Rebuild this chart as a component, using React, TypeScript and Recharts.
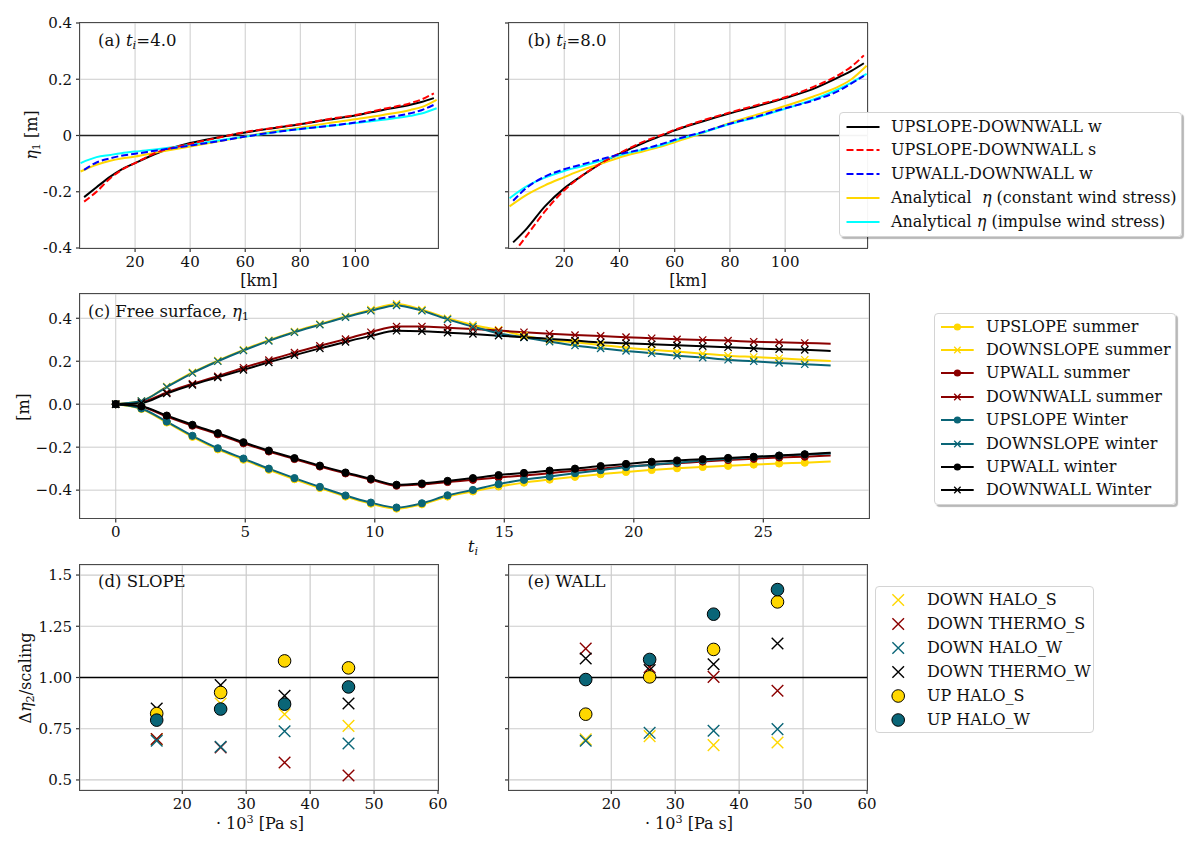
import React from "react";
import {
  CartesianGrid,
  Line,
  LineChart,
  ReferenceLine,
  Scatter,
  ScatterChart,
  XAxis,
  YAxis,
} from "recharts";

const FONT = "DejaVu Serif";
const GOLD = "#FFD700";
const DARKRED = "#8B0000";
const TEAL = "#0a6577";
const GRID = "#cccccc";

// ---- panels (a) and (b): cross-shelf profiles of eta_1 ----
const KM_TICKS = [20, 40, 60, 80, 100];
const ETA_TICKS = [-0.4, -0.2, 0, 0.2, 0.4];
const ETA_LABELS = ["-0.4", "-0.2", "0", "0.2", "0.4"];

const A_KM = [1.5, 6, 11, 15, 20, 28, 40, 50, 60, 70, 80, 90, 100, 110, 120, 124, 128.5];
const A_KM_AN = [0.2, 6, 11, 15, 20, 28, 40, 50, 60, 70, 80, 90, 100, 110, 120, 124, 129.5];
const A_SLOPE_WALL_W = [-0.219, -0.184, -0.146, -0.121, -0.098, -0.063, -0.027, -0.007, 0.011, 0.026, 0.04, 0.056, 0.071, 0.091, 0.109, 0.119, 0.133];
const A_SLOPE_WALL_S = [-0.235, -0.2, -0.152, -0.123, -0.098, -0.06, -0.03, -0.008, 0.012, 0.027, 0.041, 0.058, 0.073, 0.094, 0.115, 0.128, 0.15];
const A_WALL_WALL_W = [-0.122, -0.096, -0.081, -0.072, -0.065, -0.053, -0.036, -0.021, -0.004, 0.011, 0.023, 0.034, 0.046, 0.062, 0.079, 0.09, 0.109];
const A_CONSTANT = [-0.128, -0.104, -0.09, -0.082, -0.075, -0.06, -0.039, -0.021, -0.004, 0.014, 0.028, 0.044, 0.058, 0.073, 0.091, 0.101, 0.127];
const A_IMPULSE = [-0.098, -0.077, -0.069, -0.063, -0.057, -0.049, -0.033, -0.018, -0.004, 0.011, 0.023, 0.034, 0.044, 0.056, 0.07, 0.078, 0.097];

const B_KM = [1.5, 6.5, 13, 20, 26, 33.5, 40, 49, 56, 60, 70, 80, 90, 100, 110, 120, 124, 128.5];
const B_KM_AN = [0.2, 6.5, 13, 20, 26, 33.5, 40, 49, 56, 60, 70, 80, 90, 100, 110, 120, 124, 129.5];
const B_SLOPE_WALL_W = [-0.38, -0.33, -0.252, -0.188, -0.146, -0.098, -0.065, -0.025, 0.002, 0.018, 0.05, 0.079, 0.105, 0.133, 0.165, 0.21, 0.23, 0.257];
const B_SLOPE_WALL_S = [-0.42, -0.355, -0.27, -0.195, -0.146, -0.098, -0.063, -0.021, 0.005, 0.02, 0.053, 0.082, 0.109, 0.136, 0.172, 0.219, 0.245, 0.285];
const B_WALL_WALL_W = [-0.232, -0.185, -0.146, -0.12, -0.104, -0.084, -0.067, -0.047, -0.028, -0.015, 0.012, 0.042, 0.068, 0.097, 0.124, 0.162, 0.185, 0.212];
const B_CONSTANT = [-0.252, -0.21, -0.177, -0.148, -0.124, -0.1, -0.078, -0.055, -0.037, -0.024, 0.009, 0.045, 0.075, 0.105, 0.138, 0.177, 0.2, 0.248];
const B_IMPULSE = [-0.223, -0.18, -0.15, -0.126, -0.11, -0.089, -0.07, -0.049, -0.032, -0.018, 0.01, 0.041, 0.066, 0.095, 0.127, 0.168, 0.188, 0.219];

// ---- panel (c): free surface time series ----
const T = [0, 0.99, 1.97, 2.96, 3.94, 4.93, 5.91, 6.9, 7.88, 8.87, 9.85, 10.84, 11.82, 12.81, 13.79, 14.78, 15.76, 16.75, 17.73, 18.72, 19.7, 20.69, 21.67, 22.66, 23.64, 24.63, 25.61, 26.6, 27.6];
const T_TICKS = [0, 5, 10, 15, 20, 25];
const C_TICKS = [-0.4, -0.2, 0, 0.2, 0.4];
const C_LABELS = ["\u22120.4", "\u22120.2", "0.0", "0.2", "0.4"];

const UPSLOPE_SUMMER = [0, -0.022, -0.085, -0.152, -0.21, -0.258, -0.305, -0.349, -0.39, -0.43, -0.463, -0.486, -0.466, -0.43, -0.406, -0.383, -0.365, -0.351, -0.338, -0.326, -0.315, -0.306, -0.298, -0.292, -0.287, -0.281, -0.276, -0.272, -0.267];
const DOWNSLOPE_SUMMER = [0, 0.015, 0.082, 0.148, 0.203, 0.253, 0.298, 0.338, 0.373, 0.408, 0.44, 0.467, 0.44, 0.4, 0.369, 0.346, 0.319, 0.299, 0.288, 0.276, 0.263, 0.253, 0.245, 0.235, 0.226, 0.22, 0.214, 0.207, 0.201];
const UPWALL_SUMMER = [0, -0.012, -0.057, -0.1, -0.14, -0.182, -0.22, -0.255, -0.29, -0.322, -0.351, -0.379, -0.373, -0.362, -0.352, -0.341, -0.332, -0.321, -0.31, -0.3, -0.29, -0.282, -0.275, -0.267, -0.26, -0.254, -0.248, -0.244, -0.239];
const DOWNWALL_SUMMER = [0, 0.01, 0.055, 0.095, 0.13, 0.17, 0.205, 0.24, 0.272, 0.303, 0.335, 0.362, 0.362, 0.356, 0.35, 0.343, 0.335, 0.328, 0.322, 0.318, 0.312, 0.307, 0.302, 0.299, 0.296, 0.291, 0.288, 0.285, 0.282];
const UPSLOPE_WINTER = [0, -0.02, -0.081, -0.147, -0.205, -0.253, -0.3, -0.344, -0.385, -0.425, -0.458, -0.481, -0.461, -0.424, -0.399, -0.372, -0.352, -0.337, -0.321, -0.307, -0.293, -0.282, -0.272, -0.262, -0.254, -0.246, -0.24, -0.234, -0.23];
const DOWNSLOPE_WINTER = [0, 0.015, 0.08, 0.145, 0.2, 0.25, 0.295, 0.335, 0.37, 0.405, 0.435, 0.46, 0.435, 0.395, 0.361, 0.33, 0.311, 0.291, 0.273, 0.26, 0.248, 0.237, 0.226, 0.217, 0.207, 0.2, 0.192, 0.186, 0.18];
const UPWALL_WINTER = [0, -0.01, -0.053, -0.096, -0.135, -0.177, -0.216, -0.251, -0.286, -0.318, -0.347, -0.375, -0.369, -0.357, -0.344, -0.33, -0.32, -0.309, -0.3, -0.288, -0.278, -0.268, -0.262, -0.256, -0.25, -0.245, -0.239, -0.233, -0.226];
const DOWNWALL_WINTER = [0, 0.005, 0.05, 0.09, 0.125, 0.16, 0.195, 0.228, 0.26, 0.29, 0.318, 0.342, 0.34, 0.333, 0.327, 0.319, 0.312, 0.304, 0.296, 0.288, 0.284, 0.279, 0.274, 0.27, 0.265, 0.26, 0.256, 0.253, 0.248];

// ---- panels (d) and (e): scaled eta_2 jumps vs viscosity ----
const VISC = [16, 26, 36, 46];
const VISC_TICKS = [20, 30, 40, 50, 60];
const RATIO_TICKS = [0.5, 0.75, 1, 1.25, 1.5];
const RATIO_LABELS = ["0.5", "0.75", "1.00", "1.25", "1.5"];

const SLOPE_DOWN_HALO_S = [0.698, 0.873, 0.821, 0.764];
const SLOPE_DOWN_THERMO_S = [0.7, 0.659, 0.585, 0.522];
const SLOPE_DOWN_HALO_W = [0.691, 0.662, 0.738, 0.678];
const SLOPE_DOWN_THERMO_W = [0.849, 0.963, 0.911, 0.873];
const SLOPE_UP_HALO_S = [0.824, 0.927, 1.081, 1.047];
const SLOPE_UP_HALO_W = [0.792, 0.846, 0.87, 0.954];

const WALL_DOWN_HALO_S = [0.698, 0.714, 0.67, 0.683];
const WALL_DOWN_THERMO_S = [1.141, 1.05, 1.003, 0.935];
const WALL_DOWN_HALO_W = [0.691, 0.73, 0.74, 0.748];
const WALL_DOWN_THERMO_W = [1.093, 1.036, 1.065, 1.166];
const WALL_UP_HALO_S = [0.821, 1.003, 1.137, 1.369];
const WALL_UP_HALO_W = [0.99, 1.088, 1.309, 1.429];

// ---- layout ----
type Rect = { x: number; y: number; w: number; h: number };
const RECT_A: Rect = { x: 80, y: 23, w: 358, h: 225 };
const RECT_B: Rect = { x: 508.5, y: 23, w: 359, h: 225 };
const RECT_C: Rect = { x: 80, y: 294, w: 789, h: 224.5 };
const RECT_D: Rect = { x: 80, y: 565, w: 358, h: 225 };
const RECT_E: Rect = { x: 509, y: 565, w: 358, h: 225 };

const YW = 60;
const MT = 10;
const MR = 10;
const XH = 34;

function place(r: Rect) {
  return { left: r.x - YW, top: r.y - MT, width: YW + r.w + MR, height: MT + r.h + XH };
}

const tickText = { fontSize: 15, fill: "#111", fontFamily: FONT };
const axisCommon = {
  axisLine: false,
  tickSize: 4,
  tickMargin: 4,
  tickLine: { stroke: "#333", strokeWidth: 1.2 },
  tick: tickText,
};

const pair = (xs: number[], ys: number[]) => xs.map((x, i) => ({ x, y: ys[i] }));

type Profile = { name: string; xs: number[]; ys: number[]; color: string; dash?: string };

const PROFILE_STYLE = [
  { name: "UPSLOPE-DOWNWALL w", color: "#000000" },
  { name: "UPSLOPE-DOWNWALL s", color: "#ff0000", dash: "7 3" },
  { name: "UPWALL-DOWNWALL w", color: "#0000ff", dash: "7 3" },
  { name: "Analytical constant", color: GOLD },
  { name: "Analytical impulse", color: "#00ffff" },
];

const A_SERIES: Profile[] = [
  { ...PROFILE_STYLE[0], xs: A_KM, ys: A_SLOPE_WALL_W },
  { ...PROFILE_STYLE[3], xs: A_KM_AN, ys: A_CONSTANT },
  { ...PROFILE_STYLE[4], xs: A_KM_AN, ys: A_IMPULSE },
  { ...PROFILE_STYLE[1], xs: A_KM, ys: A_SLOPE_WALL_S },
  { ...PROFILE_STYLE[2], xs: A_KM, ys: A_WALL_WALL_W },
];
const B_SERIES: Profile[] = [
  { ...PROFILE_STYLE[0], xs: B_KM, ys: B_SLOPE_WALL_W },
  { ...PROFILE_STYLE[3], xs: B_KM_AN, ys: B_CONSTANT },
  { ...PROFILE_STYLE[4], xs: B_KM_AN, ys: B_IMPULSE },
  { ...PROFILE_STYLE[1], xs: B_KM, ys: B_SLOPE_WALL_S },
  { ...PROFILE_STYLE[2], xs: B_KM, ys: B_WALL_WALL_W },
];

const TIME_SERIES = [
  { key: "us", name: "UPSLOPE summer", color: GOLD, marker: "o", ys: UPSLOPE_SUMMER },
  { key: "ds", name: "DOWNSLOPE summer", color: GOLD, marker: "x", ys: DOWNSLOPE_SUMMER },
  { key: "uw", name: "UPWALL summer", color: DARKRED, marker: "o", ys: UPWALL_SUMMER },
  { key: "dw", name: "DOWNWALL summer", color: DARKRED, marker: "x", ys: DOWNWALL_SUMMER },
  { key: "usw", name: "UPSLOPE Winter", color: TEAL, marker: "o", ys: UPSLOPE_WINTER },
  { key: "dsw", name: "DOWNSLOPE winter", color: TEAL, marker: "x", ys: DOWNSLOPE_WINTER },
  { key: "uww", name: "UPWALL winter", color: "#000000", marker: "o", ys: UPWALL_WINTER },
  { key: "dww", name: "DOWNWALL Winter", color: "#000000", marker: "x", ys: DOWNWALL_WINTER },
];
const timeRows = T.map((t, i) => {
  const row: Record<string, number> = { t };
  TIME_SERIES.forEach((s) => (row[s.key] = s.ys[i]));
  return row;
});

const SCATTER_STYLE = [
  { name: "DOWN HALO_S", color: GOLD, marker: "x" },
  { name: "DOWN THERMO_S", color: DARKRED, marker: "x" },
  { name: "DOWN HALO_W", color: TEAL, marker: "x" },
  { name: "DOWN THERMO_W", color: "#000000", marker: "x" },
  { name: "UP HALO_S", color: GOLD, marker: "o" },
  { name: "UP HALO_W", color: TEAL, marker: "o" },
];
const SLOPE_VALUES = [SLOPE_DOWN_HALO_S, SLOPE_DOWN_THERMO_S, SLOPE_DOWN_HALO_W, SLOPE_DOWN_THERMO_W, SLOPE_UP_HALO_S, SLOPE_UP_HALO_W];
const WALL_VALUES = [WALL_DOWN_HALO_S, WALL_DOWN_THERMO_S, WALL_DOWN_HALO_W, WALL_DOWN_THERMO_W, WALL_UP_HALO_S, WALL_UP_HALO_W];

// ---- small drawing helpers ----
function cross(cx: number, cy: number, s: number) {
  return `M${cx - s},${cy - s}L${cx + s},${cy + s}M${cx - s},${cy + s}L${cx + s},${cy - s}`;
}

function Border({ r }: { r: Rect }) {
  return (
    <div
      style={{
        position: "absolute",
        left: r.x - 0.75,
        top: r.y - 0.75,
        width: r.w + 1.5,
        height: r.h + 1.5,
        border: "1.5px solid #4a4a4a",
        boxSizing: "border-box",
        pointerEvents: "none",
      }}
    />
  );
}

function Label({ x, y, children, rotate, center, size = 16 }: any) {
  const transform = rotate
    ? "translate(-50%, -50%) rotate(-90deg)"
    : center
    ? "translate(-50%, -50%)"
    : "translate(0, -50%)";
  return (
    <div
      style={{
        position: "absolute",
        left: x,
        top: y,
        transform,
        whiteSpace: "nowrap",
        fontSize: size,
        lineHeight: "20px",
        color: "#111",
        fontFamily: FONT,
      }}
    >
      {children}
    </div>
  );
}

const sub = { fontSize: "0.7em", verticalAlign: "-0.3em", lineHeight: 0 } as const;
const sup = { fontSize: "0.7em", verticalAlign: "0.5em", lineHeight: 0 } as const;

function ProfilePanel({ r, series, yLabels }: { r: Rect; series: Profile[]; yLabels: boolean }) {
  const f = place(r);
  return (
    <div style={{ position: "absolute", left: f.left, top: f.top }}>
      <LineChart width={f.width} height={f.height} margin={{ top: MT, right: MR, bottom: 0, left: 0 }}>
        <CartesianGrid stroke={GRID} strokeWidth={1} />
        <XAxis type="number" dataKey="x" domain={[0, 130]} ticks={KM_TICKS} allowDataOverflow height={XH} {...axisCommon} />
        <YAxis
          type="number"
          dataKey="y"
          domain={[-0.4, 0.4]}
          ticks={ETA_TICKS}
          allowDataOverflow
          width={YW}
          {...axisCommon}
          tickFormatter={(v: number) => (yLabels ? ETA_LABELS[ETA_TICKS.indexOf(v)] ?? "" : "")}
        />
        <ReferenceLine y={0} stroke="#222" strokeWidth={1.6} />
        {series.map((s) => (
          <Line
            key={s.name}
            data={pair(s.xs, s.ys)}
            dataKey="y"
            type="monotone"
            stroke={s.color}
            strokeWidth={2}
            strokeDasharray={s.dash}
            dot={false}
            isAnimationActive={false}
          />
        ))}
      </LineChart>
    </div>
  );
}

function TimePanel() {
  const f = place(RECT_C);
  const last = T.length - 1;
  return (
    <div style={{ position: "absolute", left: f.left, top: f.top }}>
      <LineChart width={f.width} height={f.height} data={timeRows} margin={{ top: MT, right: MR, bottom: 0, left: 0 }}>
        <CartesianGrid stroke={GRID} strokeWidth={1} />
        <XAxis type="number" dataKey="t" domain={[-1.38, 29.08]} ticks={T_TICKS} allowDataOverflow height={XH} {...axisCommon} />
        <YAxis
          type="number"
          domain={[-0.532, 0.513]}
          ticks={C_TICKS}
          allowDataOverflow
          width={YW}
          {...axisCommon}
          tickFormatter={(v: number) => C_LABELS[C_TICKS.indexOf(v)] ?? ""}
        />
        {TIME_SERIES.map((s) => (
          <Line
            key={s.key}
            dataKey={s.key}
            type="monotone"
            stroke={s.color}
            strokeWidth={2}
            isAnimationActive={false}
            dot={(p: any) => {
              const k = `${s.key}-${p.index}`;
              if (p.index === last || p.cx == null) return <g key={k} />;
              return s.marker === "o" ? (
                <circle key={k} cx={p.cx} cy={p.cy} r={3.6} fill={s.color} stroke={s.color} />
              ) : (
                <path key={k} d={cross(p.cx, p.cy, 3.6)} stroke={s.color} strokeWidth={1.3} fill="none" />
              );
            }}
          />
        ))}
      </LineChart>
    </div>
  );
}

function ScatterPanel({ r, values, yLabels }: { r: Rect; values: number[][]; yLabels: boolean }) {
  const f = place(r);
  return (
    <div style={{ position: "absolute", left: f.left, top: f.top }}>
      <ScatterChart width={f.width} height={f.height} margin={{ top: MT, right: MR, bottom: 0, left: 0 }}>
        <CartesianGrid stroke={GRID} strokeWidth={1.2} />
        <XAxis type="number" dataKey="x" domain={[4, 60]} ticks={VISC_TICKS} allowDataOverflow height={XH} {...axisCommon} />
        <YAxis
          type="number"
          dataKey="y"
          domain={[0.451, 1.549]}
          ticks={RATIO_TICKS}
          allowDataOverflow
          width={YW}
          {...axisCommon}
          tickFormatter={(v: number) => (yLabels ? RATIO_LABELS[RATIO_TICKS.indexOf(v)] ?? "" : "")}
        />
        <ReferenceLine y={1} stroke="#000" strokeWidth={1.6} />
        {SCATTER_STYLE.map((s, si) => (
          <Scatter
            key={s.name}
            data={pair(VISC, values[si])}
            isAnimationActive={false}
            shape={(p: any) =>
              s.marker === "o" ? (
                <circle cx={p.cx} cy={p.cy} r={6.3} fill={s.color} stroke="#000" strokeWidth={1} />
              ) : (
                <path d={cross(p.cx, p.cy, 5.8)} stroke={s.color} strokeWidth={1.4} fill="none" />
              )
            }
          />
        ))}
      </ScatterChart>
    </div>
  );
}

function LegendBox({ left, top, width, height, shadow, children }: any) {
  return (
    <div
      style={{
        position: "absolute",
        left,
        top,
        width,
        height,
        background: "rgba(255,255,255,0.95)",
        border: "1px solid #d4d4d4",
        borderRadius: 4,
        boxSizing: "border-box",
        boxShadow: shadow ? "2px 2px 1px rgba(0,0,0,0.28)" : "none",
        fontFamily: FONT,
        fontSize: 16,
        color: "#111",
      }}
    >
      {children}
    </div>
  );
}

function LegendRow({ y, textX, icon, children }: any) {
  return (
    <>
      <svg style={{ position: "absolute", left: 0, top: y - 10 }} width={textX} height={20}>
        {icon}
      </svg>
      <div style={{ position: "absolute", left: textX, top: y - 11, lineHeight: "22px", whiteSpace: "nowrap" }}>{children}</div>
    </>
  );
}

const PROFILE_LABELS = [
  "UPSLOPE-DOWNWALL w",
  "UPSLOPE-DOWNWALL s",
  "UPWALL-DOWNWALL w",
  <span key="c">
    Analytical&nbsp;&nbsp;<i>η</i> (constant wind stress)
  </span>,
  <span key="i">
    Analytical <i>η</i> (impulse wind stress)
  </span>,
];

export default function App() {
  return (
    <div
      style={{
        position: "absolute",
        left: 0,
        top: 0,
        width: 1200,
        height: 849,
        background: "#fff",
        fontFamily: FONT,
        overflow: "hidden",
      }}
    >
      <ProfilePanel r={RECT_A} series={A_SERIES} yLabels />
      <ProfilePanel r={RECT_B} series={B_SERIES} yLabels={false} />
      <TimePanel />
      <ScatterPanel r={RECT_D} values={SLOPE_VALUES} yLabels />
      <ScatterPanel r={RECT_E} values={WALL_VALUES} yLabels={false} />

      <Border r={RECT_A} />
      <Border r={RECT_B} />
      <Border r={RECT_C} />
      <Border r={RECT_D} />
      <Border r={RECT_E} />

      {/* panel titles */}
      <Label x={98} y={41} size={16.5}>
        (a) <i>t</i>
        <span style={sub}>
          <i>i</i>
        </span>
        =4.0
      </Label>
      <Label x={527.5} y={41} size={16.5}>
        (b) <i>t</i>
        <span style={sub}>
          <i>i</i>
        </span>
        =8.0
      </Label>
      <Label x={88} y={312} size={16.5}>
        (c) Free surface, <i>η</i>
        <span style={sub}>1</span>
      </Label>
      <Label x={98} y={582} size={16.5}>
        (d) SLOPE
      </Label>
      <Label x={527.5} y={582} size={16.5}>
        (e) WALL
      </Label>

      {/* axis titles */}
      <Label x={32} y={135} rotate>
        <i>η</i>
        <span style={sub}>1</span> [m]
      </Label>
      <Label x={259} y={281} center>
        [km]
      </Label>
      <Label x={688} y={281} center>
        [km]
      </Label>
      <Label x={24} y={407} rotate>
        [m]
      </Label>
      <Label x={473} y={547} center>
        <i>t</i>
        <span style={sub}>
          <i>i</i>
        </span>
      </Label>
      <Label x={26} y={678} rotate>
        Δ<i>η</i>
        <span style={sub}>2</span>/scaling
      </Label>
      <Label x={260} y={824} center>
        · 10<span style={sup}>3</span> [Pa s]
      </Label>
      <Label x={689} y={824} center>
        · 10<span style={sup}>3</span> [Pa s]
      </Label>

      {/* legend for (a)/(b) */}
      <LegendBox left={838.5} top={112.3} width={343} height={124.5} shadow>
        {PROFILE_STYLE.map((s, i) => (
          <LegendRow
            key={s.name}
            y={13.4 + i * 23.75}
            textX={51.5}
            icon={<line x1={6.5} x2={39.5} y1={10} y2={10} stroke={s.color} strokeWidth={2} strokeDasharray={s.dash} />}
          >
            {PROFILE_LABELS[i]}
          </LegendRow>
        ))}
      </LegendBox>

      {/* legend for (c) */}
      <LegendBox left={934} top={313.3} width={242} height={191.7} shadow>
        {TIME_SERIES.map((s, i) => (
          <LegendRow
            key={s.key}
            y={12.4 + i * 23.4}
            textX={51}
            icon={
              <g>
                <line x1={6} x2={38.7} y1={10} y2={10} stroke={s.color} strokeWidth={2} />
                {s.marker === "o" ? (
                  <circle cx={22.4} cy={10} r={3.6} fill={s.color} />
                ) : (
                  <path d={cross(22.4, 10, 3.2)} stroke={s.color} strokeWidth={1.3} />
                )}
              </g>
            }
          >
            {s.name}
          </LegendRow>
        ))}
      </LegendBox>

      {/* legend for (d)/(e) */}
      <LegendBox left={875.4} top={586} width={219} height={147.3}>
        {SCATTER_STYLE.map((s, i) => (
          <LegendRow
            key={s.name}
            y={13.3 + i * 23.9}
            textX={50.6}
            icon={
              s.marker === "o" ? (
                <circle cx={22.2} cy={10} r={6.3} fill={s.color} stroke="#000" strokeWidth={1} />
              ) : (
                <path d={cross(22.2, 10, 5.8)} stroke={s.color} strokeWidth={1.4} fill="none" />
              )
            }
          >
            {s.name}
          </LegendRow>
        ))}
      </LegendBox>
    </div>
  );
}
